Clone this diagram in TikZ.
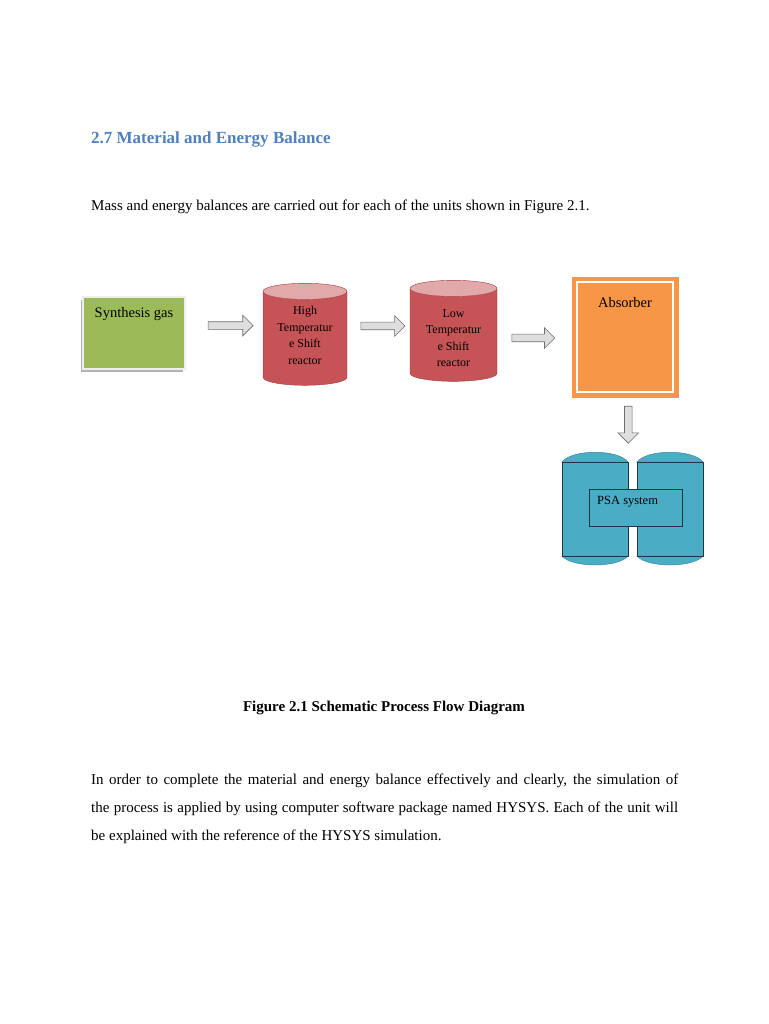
\documentclass[tikz,border=0pt]{standalone}
\usepackage{fontspec}
\setmainfont{Liberation Serif}
\usetikzlibrary{positioning,calc,shapes.geometric,shapes.arrows,shadows}
\definecolor{headblue}{RGB}{79,129,189}
\definecolor{feedgreen}{RGB}{155,187,89}
\definecolor{framegray}{RGB}{238,238,238}
\definecolor{reactred}{RGB}{198,84,86}
\definecolor{reactedge}{RGB}{160,60,60}
\definecolor{absorange}{RGB}{247,150,70}
\definecolor{psablue}{RGB}{75,172,198}
\definecolor{psaedge}{RGB}{30,55,65}
\definecolor{flowfill}{RGB}{222,222,222}
\definecolor{flowedge}{RGB}{110,110,110}
\tikzset{
    feed/.style={rectangle,draw=framegray,line width=2.5pt,fill=feedgreen,outer sep=0pt,
        minimum width=102pt,minimum height=72pt,
        drop shadow={shadow xshift=-2.5pt,shadow yshift=-2.5pt,fill=black!60,opacity=.5}},
    reactor/.style={cylinder,shape border rotate=90,aspect=.26,draw=reactedge,outer sep=0pt,
        cylinder uses custom fill,cylinder body fill=reactred,cylinder end fill=reactred!50!white,
        align=center,font=\fontsize{12}{16.5}\selectfont},
    column/.style={rectangle,fill=absorange,draw=white,line width=1.2pt,outer sep=0pt,
        preaction={draw=absorange,line width=11pt},minimum width=96pt,minimum height=110pt},
    tank/.style={rectangle,fill=psablue,draw=psaedge,line width=.8pt,outer sep=0pt,
        minimum width=66pt,minimum height=94pt},
    dome/.style={fill=psablue,draw=psablue!80!black,line width=.5pt},
    unit/.style={rectangle,fill=psablue,draw=psaedge,line width=.8pt,outer sep=0pt,
        minimum width=93pt,minimum height=37pt},
    flow/.style={single arrow,draw=flowedge,fill=flowfill,line width=.6pt,inner sep=0pt,
        inner ysep=3.5pt,single arrow head extend=6.5pt,single arrow tip angle=90},
    tag/.style={inner sep=0pt,font=\fontsize{14.5}{17}\selectfont}
}

\begin{document}
\begin{tikzpicture}[x=1pt,y=-1pt]
    \useasboundingbox (0,0) rectangle (768,1024);

    % heading and opening line
    \node[anchor=base west,inner sep=0pt,text=headblue,font=\fontsize{17}{20}\selectfont\bfseries]
        (title) at (91,144) {2.7 Material and Energy Balance};
    \node[anchor=base west,inner sep=0pt,font=\fontsize{15}{17}\selectfont]
        (intro) at (91,211) {Mass and energy balances are carried out for each of the units shown in Figure 2.1.};

    % units
    \node[feed] (syn) [label={[tag,anchor=north,yshift=-10pt]north:Synthesis gas}] at (134,333) {};

    \node[reactor,minimum width=84pt,minimum height=102pt] (hts) at (305,340)
        {High\\Temperatur\\e Shift\\reactor\rule[-9pt]{0pt}{9pt}};

    \node[reactor,minimum width=87pt,minimum height=101pt] (lts) at (453.5,336.5)
        {\rule{0pt}{11.5pt}Low\\Temperatur\\e Shift\\reactor};

    \node[column] (abs) [label={[tag,anchor=north,yshift=-15pt]north:Absorber}] at (625,337) {};

    % psa vessels
    \node[tank] (bedl) at (595,509) {};
    \node[tank] (bedr) at (670,509) {};
    \foreach \bed in {bedl,bedr}{
        \filldraw[dome] (\bed.north west) .. controls +(10,-13) and +(-10,-13) .. (\bed.north east) -- cycle;
        \filldraw[dome] (\bed.south west) .. controls +(10,12) and +(-10,12) .. (\bed.south east) -- cycle;
        \draw[psaedge,line width=.8pt] (\bed.north west) -- (\bed.north east);
        \draw[psaedge,line width=.8pt] (\bed.south west) -- (\bed.south east);
    }
    \node[unit] (psa) [label={[inner sep=0pt,anchor=north west,xshift=8pt,yshift=-7pt,
        font=\fontsize{12.5}{15}\selectfont]north west:PSA system}] at (635.5,507.5) {};
    \coordinate (gap) at ($(bedl.north east)!.5!(bedr.north west)$);

    % flows
    \path ([yshift=8pt]syn.east) -- node[flow,minimum height=45pt,pos=.56] (f1) {} ([yshift=14pt]hts.west);
    \path ([yshift=14pt]hts.east) -- node[flow,minimum height=44pt,pos=.54] (f2) {} ([yshift=10.5pt]lts.west);
    \path ([yshift=-1.5pt]lts.east) -- node[flow,minimum height=43pt,pos=.43] (f3) {} ([yshift=-1pt]abs.west);
    \path (abs.south) -- node[flow,rotate=-90,minimum height=37pt,pos=.44] (f4) {} (gap);

    % caption and closing paragraph
    \node[anchor=base,inner sep=0pt,font=\fontsize{15}{17}\selectfont\bfseries]
        (caption) at (384,711) {Figure 2.1 Schematic Process Flow Diagram};
    \node[anchor=base west,inner sep=0pt,font=\fontsize{15}{17}\selectfont] (para1) at (91,784)
        {\makebox[587pt][s]{In order to complete the material and energy balance effectively and clearly, the simulation of}};
    \node[anchor=base west,inner sep=0pt,font=\fontsize{15}{17}\selectfont] (para2) at (91,812)
        {\makebox[587pt][s]{the process is applied by using computer software package named HYSYS. Each of the unit will}};
    \node[anchor=base west,inner sep=0pt,font=\fontsize{15}{17}\selectfont] (para3) at (91,840)
        {be explained with the reference of the HYSYS simulation.};

\end{tikzpicture}
\end{document}
